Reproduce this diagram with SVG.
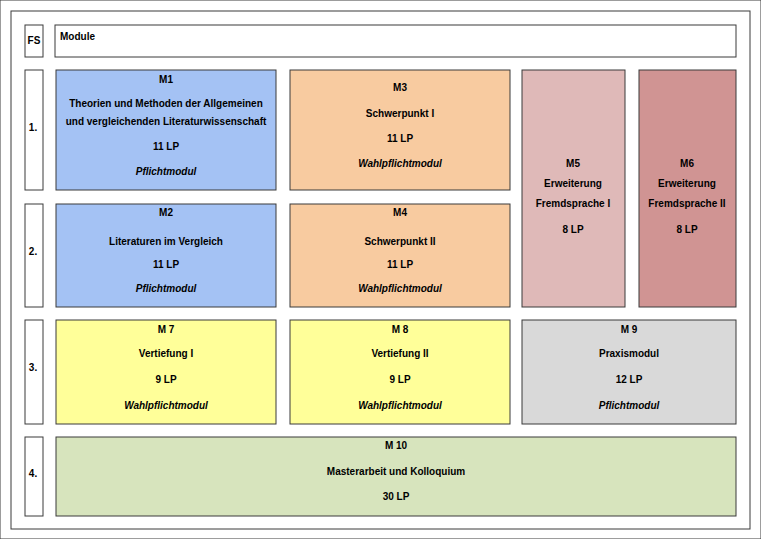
<svg xmlns="http://www.w3.org/2000/svg" width="761" height="539" viewBox="0 0 761 539">
<style>
rect{stroke:#3a3a3a;stroke-width:1}
text{font-family:"Liberation Sans",Arial,sans-serif;font-weight:bold;font-size:10px;fill:#000;text-anchor:middle;dominant-baseline:middle}
.l{text-anchor:start}
.i{font-style:italic}
.w{fill:#fff}
.b{fill:#a4c2f4}.o{fill:#f8cba0}.p{fill:#dfb9b8}.r{fill:#d09493}.y{fill:#ffff99}.g{fill:#d9d9d9}.gr{fill:#d7e4bd}
</style>
<rect x="0" y="0" width="761" height="539" fill="#fff" stroke="none"/>
<rect x="11" y="11" width="739" height="518" fill="#fff"/>
<g id="fs"><rect class="w" x="25" y="25" width="18" height="32"/><text x="34" y="41">FS</text></g>
<g id="module"><rect class="w" x="55" y="25" width="681" height="32"/><text class="l" x="60" y="37">Module</text></g>
<g id="s1"><rect class="w" x="25" y="70" width="18" height="120"/><text x="33" y="128">1.</text></g>
<g id="s2"><rect class="w" x="25" y="204" width="18" height="103"/><text x="33" y="252">2.</text></g>
<g id="s3"><rect class="w" x="25" y="320" width="18" height="104"/><text x="33" y="368">3.</text></g>
<g id="s4"><rect class="w" x="25" y="437" width="18" height="79"/><text x="33" y="474">4.</text></g>
<g id="m1"><rect class="b" x="56" y="70" width="220" height="120"/><text x="166" y="80">M1</text><text x="166" y="104">Theorien und Methoden der Allgemeinen</text><text x="166" y="122">und vergleichenden Literaturwissenschaft</text><text x="166" y="147">11 LP</text><text class="i" x="166" y="172">Pflichtmodul</text></g>
<g id="m3"><rect class="o" x="290" y="70" width="220" height="120"/><text x="400" y="88">M3</text><text x="400" y="114">Schwerpunkt I</text><text x="400" y="139">11 LP</text><text class="i" x="400" y="164">Wahlpflichtmodul</text></g>
<g id="m5"><rect class="p" x="522" y="70" width="103" height="237"/><text x="573" y="164">M5</text><text x="573" y="184">Erweiterung</text><text x="573" y="204">Fremdsprache I</text><text x="573" y="230">8 LP</text><text class="i" x="573" y="230" dy="0" visibility="hidden"> </text><text class="i" x="573" y="256" style="display:none"> </text></g>
<g id="m5b"><text class="i" x="573" y="230" style="display:none"> </text></g>
<g id="m6"><rect class="r" x="639" y="70" width="97" height="237"/><text x="687" y="164">M6</text><text x="687" y="184">Erweiterung</text><text x="687" y="204">Fremdsprache II</text><text x="687" y="230">8 LP</text></g>
<g id="m2"><rect class="b" x="56" y="204" width="220" height="103"/><text x="166" y="213">M2</text><text x="166" y="242">Literaturen im Vergleich</text><text x="166" y="265">11 LP</text><text class="i" x="166" y="289">Pflichtmodul</text></g>
<g id="m4"><rect class="o" x="290" y="204" width="220" height="103"/><text x="400" y="213">M4</text><text x="400" y="242">Schwerpunkt II</text><text x="400" y="265">11 LP</text><text class="i" x="400" y="289">Wahlpflichtmodul</text></g>
<g id="m7"><rect class="y" x="56" y="320" width="220" height="104"/><text x="166" y="330">M 7</text><text x="166" y="354">Vertiefung I</text><text x="166" y="380">9 LP</text><text class="i" x="166" y="406">Wahlpflichtmodul</text></g>
<g id="m8"><rect class="y" x="290" y="320" width="220" height="104"/><text x="400" y="330">M 8</text><text x="400" y="354">Vertiefung II</text><text x="400" y="380">9 LP</text><text class="i" x="400" y="406">Wahlpflichtmodul</text></g>
<g id="m9"><rect class="g" x="522" y="320" width="214" height="104"/><text x="629" y="330">M 9</text><text x="629" y="354">Praxismodul</text><text x="629" y="380">12 LP</text><text class="i" x="629" y="406">Pflichtmodul</text></g>
<g id="m10"><rect class="gr" x="56" y="437" width="680" height="79"/><text x="396" y="446">M 10</text><text x="396" y="472">Masterarbeit und Kolloquium</text><text x="396" y="497">30 LP</text></g>
<g id="wp"><text class="i" x="573" y="230" dy="0" style="display:none"> </text></g>
<g id="connectors"/>
</svg>
